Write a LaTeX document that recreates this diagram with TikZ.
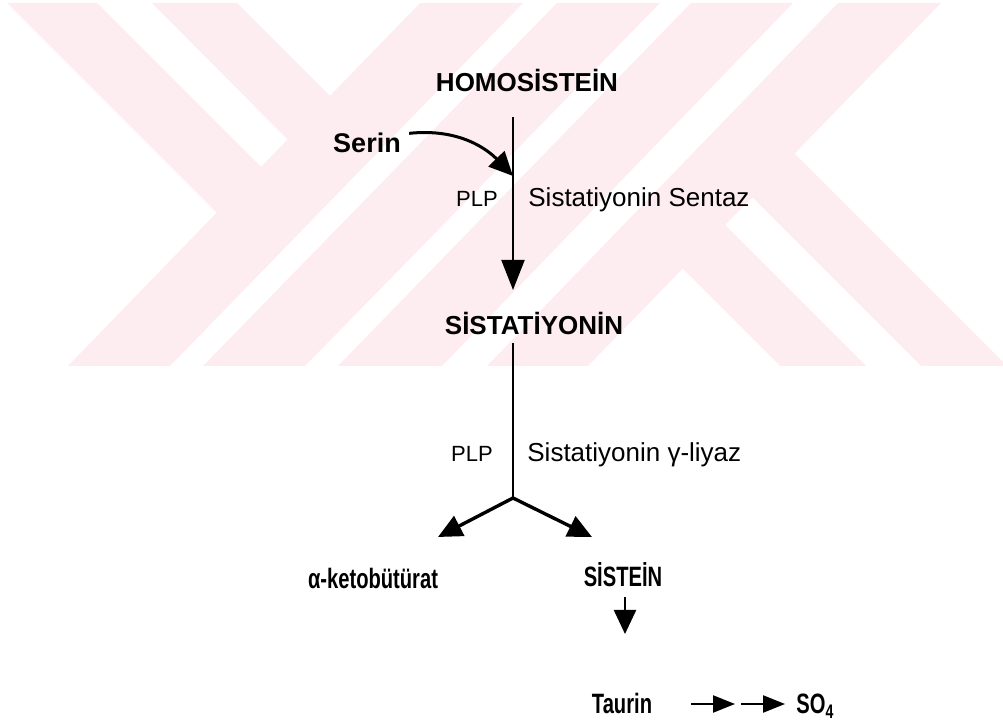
\documentclass[tikz,border=0pt]{standalone}
\usepackage{fontspec}
\usepackage{graphicx}
\setmainfont{Liberation Sans}
\usetikzlibrary{arrows.meta}
\definecolor{wmpink}{RGB}{253,236,240}
\newcommand{\narrowtext}[1]{\scalebox{0.72}[1]{#1}}
\tikzset{
	substance/.style={font=\bfseries\fontsize{13}{15}\selectfont, inner sep=0pt, anchor=base},
	product/.style={font=\bfseries\fontsize{14}{16}\selectfont, inner sep=0pt, anchor=base},
	enzyme/.style={font=\fontsize{13}{15}\selectfont, inner sep=0pt, anchor=base west},
	cofactor/.style={font=\fontsize{11}{13}\selectfont, inner sep=0pt, anchor=base},
	bighead/.style={-{Triangle[length=15pt,width=11.5pt]}},
	midhead/.style={-{Triangle[length=12pt,width=11pt]}},
	smallhead/.style={-{Triangle[length=11pt,width=8.5pt]}}
}

\begin{document}
\begin{tikzpicture}[x=0.5pt,y=-0.5pt]
			\useasboundingbox (0,0) rectangle (1003,721);

			% watermark
			\begin{scope}
				\clip (0,0) rectangle (1003,721);
				\fill [wmpink] (420,3)--(523,3)--(170,366)--(68,366)--cycle;
				\fill [wmpink] (557,3)--(660,3)--(305,366)--(203,366)--cycle;
				\fill [wmpink] (691,3)--(793,3)--(442,366)--(338,366)--cycle;
				\fill [wmpink] (838,3)--(941,3)--(588,366)--(487,366)--cycle;
				\fill [wmpink] (7,3)--(97,3)--(262,168)--(217,213)--cycle;
				\fill [wmpink] (152,3)--(237,3)--(331,97)--(288,140)--cycle;
				\fill [wmpink] (780,366)--(866,366)--(724,224)--(682,268)--cycle;
				\fill [wmpink] (921,366)--(1007,366)--(794,153)--(751,196)--cycle;
			\end{scope}

			% substances
			\node [substance] (homo) at (527,92) {HOMOSİSTEİN};
			\node [substance, font=\bfseries\fontsize{13.5}{15}\selectfont] (serin) at (367,153) {Serin};
			\node [substance] (sista) at (534,335) {SİSTATİYONİN};
			\node [product] (keto) at (373,589) {\narrowtext{α-ketobütürat}};
			\node [product] (sistein) at (623,587) {\narrowtext{SİSTEİN}};
			\node [product] (taurin) at (622,714) {\narrowtext{Taurin}};
			\node [product, anchor=base west] (so4) at (796,714) {\narrowtext{SO\textsubscript{4}}};

			% enzymes
			\node [cofactor] (plpa) at (477,207) {PLP};
			\node [enzyme] (sentaz) at (528,207) {Sistatiyonin Sentaz};
			\node [cofactor] (plpb) at (472,462) {PLP};
			\node [enzyme] (liyaz) at (527,462) {Sistatiyonin γ-liyaz};

			% points on the arrows
			\coordinate (topa) at (513,117);
			\coordinate (tipa) at (513,290);
			\coordinate (joint) at (513,176);
			\coordinate (topb) at (513,343);
			\coordinate (fork) at (513,498);
			\coordinate (tipl) at (438,537);
			\coordinate (tipr) at (592,537);
			\coordinate (topc) at (625,597);
			\coordinate (tipc) at (625,634);
			\coordinate (starta) at (691,704);
			\coordinate (enda) at (735,704);
			\coordinate (startb) at (741,704);
			\coordinate (endb) at (785,704);

			\draw [line width=1pt] [bighead] (topa) -- (tipa);
			\draw [line width=1.5pt] [midhead] (serin.east) ++(8,-10) .. controls (460,128) and (488,150) .. (joint);
			\draw [line width=1pt] (topb) -- (fork);
			\draw [line width=1.7pt] [midhead] (fork) -- (tipl);
			\draw [line width=1.7pt] [midhead] (fork) -- (tipr);
			\draw [line width=1.2pt] [midhead] (topc) -- (tipc);
			\draw [line width=1.2pt] [smallhead] (starta) -- (enda);
			\draw [line width=1.2pt] [smallhead] (startb) -- (endb);
		\end{tikzpicture}
\end{document}
